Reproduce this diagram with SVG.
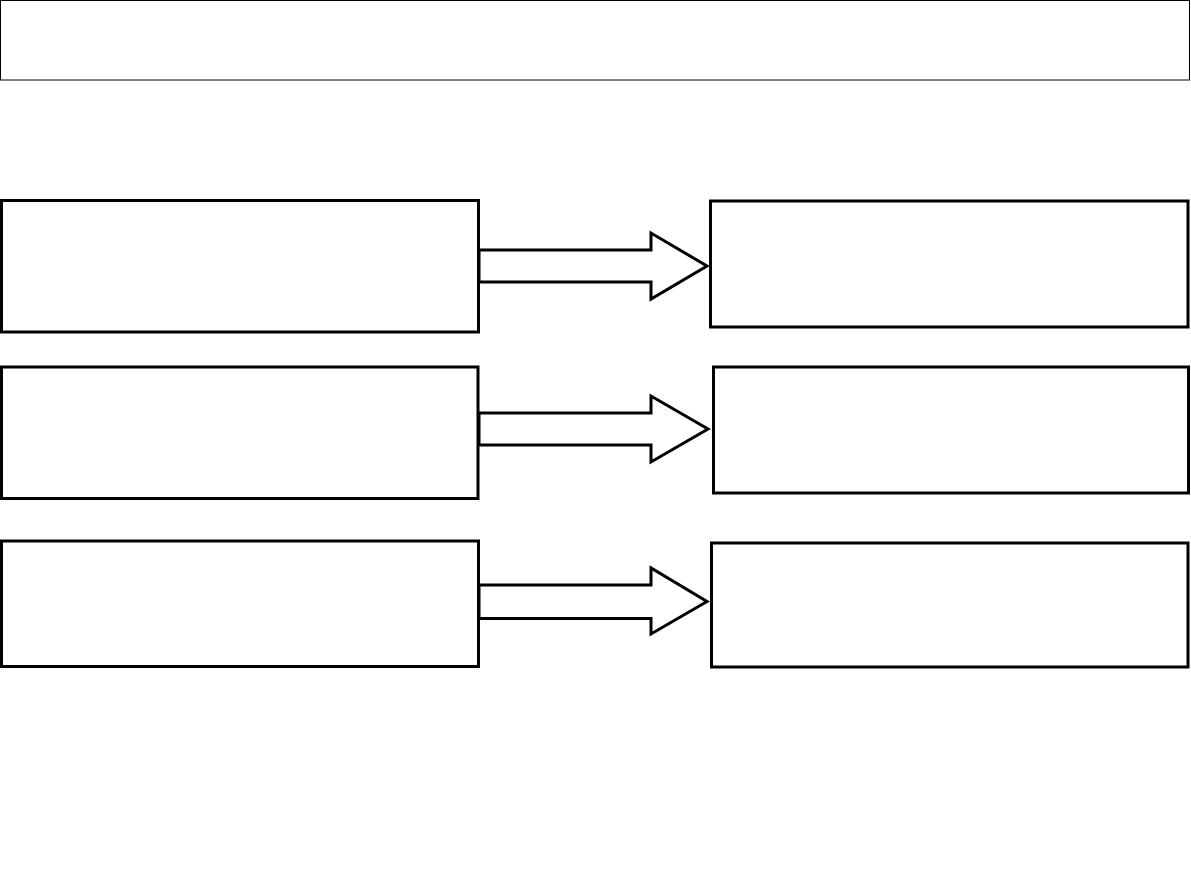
<svg xmlns="http://www.w3.org/2000/svg" width="1191" height="893" viewBox="0 0 1191 893">
<style>
.box{fill:#fff;stroke:#000;stroke-width:3}
.arrow{fill:#fff;stroke:#000;stroke-width:3;stroke-linejoin:miter}
</style>
<rect width="1191" height="893" fill="#fff"/>
<g id="title"><rect x="0.5" y="0.5" width="1189" height="79.5" fill="#fff" stroke="#000" stroke-width="1"/></g>
<g id="connectors">
<path class="arrow" d="M479,250 H651 V233 L707,266 L651,299 V282 H479 Z"/>
<path class="arrow" d="M479,413 H651 V396 L708,429 L651,462 V445 H479 Z"/>
<path class="arrow" d="M479,585 H651 V568 L707,601.5 L651,634 V618.5 H479 Z"/>
</g>
<g id="left1"><rect class="box" x="1.5" y="200.5" width="477" height="131.5"/></g>
<g id="right1"><rect class="box" x="710.5" y="201" width="477.5" height="126"/></g>
<g id="left2"><rect class="box" x="1.5" y="367" width="476.5" height="131.5"/></g>
<g id="right2"><rect class="box" x="713.5" y="367" width="475" height="126"/></g>
<g id="left3"><rect class="box" x="1.5" y="541" width="477" height="125.5"/></g>
<g id="right3"><rect class="box" x="711.5" y="543" width="476.5" height="124"/></g>
</svg>
